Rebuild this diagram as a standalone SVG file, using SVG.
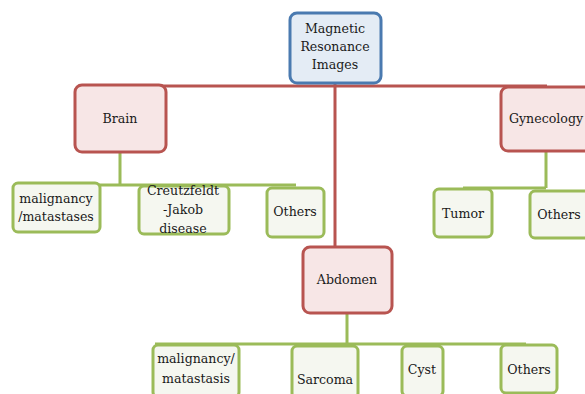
<svg xmlns="http://www.w3.org/2000/svg" width="585" height="394" viewBox="0 0 585 394">
<style>
text{font-family:"DejaVu Serif","Liberation Serif",serif;font-size:12.6px;fill:#1a1a1a;text-anchor:middle}
.top{fill:#e4ecf5;stroke:#4a7ab0;stroke-width:3}
.red{fill:#f7e6e6;stroke:#b85450;stroke-width:3}
.grn{fill:#f5f7f0;stroke:#9bbb59;stroke-width:3}
.rl{stroke:#b85450;stroke-width:3;fill:none}
.gl{stroke:#9bbb59;stroke-width:3;fill:none}
</style>
<rect width="585" height="394" fill="#ffffff"/>
<g id="connectors">
<path class="rl" d="M121 86H547M547 86V88M335 83V248"/>
<path class="gl" d="M120 152V185M14 185H296"/>
<path class="gl" d="M546 151V188M463 188H546"/>
<path class="gl" d="M347 313V344M155 344H526"/>
</g>
<g id="n-mri"><rect class="top" x="290" y="13" width="91" height="70" rx="7"/><text x="335" y="33">Magnetic</text><text x="335" y="51">Resonance</text><text x="335" y="69">Images</text></g>
<g id="n-brain"><rect class="red" x="75" y="85" width="91" height="67" rx="7"/><text x="120" y="123">Brain</text></g>
<g id="n-gyn"><rect class="red" x="501" y="87" width="92" height="64" rx="7"/><text x="546" y="123">Gynecology</text></g>
<g id="n-abd"><rect class="red" x="303" y="247" width="89" height="66" rx="7"/><text x="347" y="284">Abdomen</text></g>
<g id="n-bm"><rect class="grn" x="13" y="183" width="87" height="49" rx="5"/><text x="56" y="203">malignancy</text><text x="56" y="221">/matastases</text></g>
<g id="n-cjd"><rect class="grn" x="139" y="186" width="90" height="48" rx="5"/><text x="183" y="195">Creutzfeldt</text><text x="183" y="214">-Jakob</text><text x="183" y="233">disease</text></g>
<g id="n-bo"><rect class="grn" x="267" y="188" width="57" height="49" rx="5"/><text x="295" y="216">Others</text></g>
<g id="n-tumor"><rect class="grn" x="434" y="189" width="58" height="48" rx="5"/><text x="463" y="218">Tumor</text></g>
<g id="n-go"><rect class="grn" x="530" y="191" width="60" height="47" rx="5"/><text x="559" y="219">Others</text></g>
<g id="n-am"><rect class="grn" x="153" y="345" width="86" height="52" rx="5"/><text x="196" y="363">malignancy/</text><text x="196" y="383">matastasis</text></g>
<g id="n-sar"><rect class="grn" x="292" y="346" width="66" height="52" rx="5"/><text x="325" y="384">Sarcoma</text></g>
<g id="n-cyst"><rect class="grn" x="402" y="346" width="41" height="50" rx="5"/><text x="422" y="374">Cyst</text></g>
<g id="n-ao"><rect class="grn" x="501" y="345" width="56" height="48" rx="5"/><text x="529" y="374">Others</text></g>
</svg>
